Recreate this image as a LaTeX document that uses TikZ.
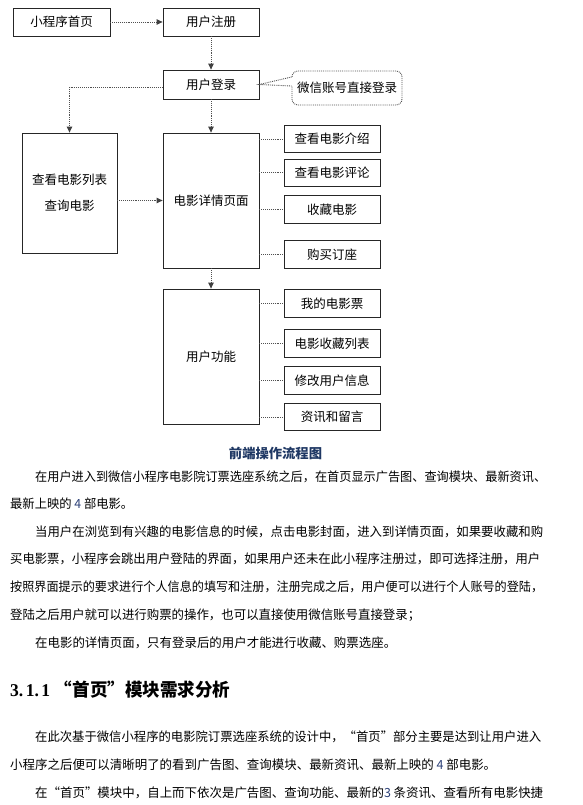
\documentclass[tikz,border=0pt]{standalone}
\usepackage{fontspec}
\setmainfont{Noto Sans CJK SC}
\newfontfamily\hserif{Liberation Serif}
\usepackage{graphicx}
\usetikzlibrary{arrows.meta,calc}
\definecolor{capblue}{RGB}{31,56,100}
\definecolor{dotgray}{RGB}{80,80,80}
\definecolor{numblue}{RGB}{45,65,120}
\newsavebox\fitbox
\newcommand\fitline[2]{\sbox\fitbox{#2}\pgfmathsetmacro\fitsx{#1/\wd\fitbox}\scalebox{\fitsx}[1]{\usebox\fitbox}}
\begin{document}
\begin{tikzpicture}[x=1pt,y=-1pt,
  box/.style={draw=black!85, line width=0.8pt, inner sep=0pt, font=\fontsize{12.5}{15}\selectfont},
  conn/.style={draw=dotgray, line width=0.9pt, dash pattern=on 0.9pt off 1pt},
  arr/.style={conn, -{Triangle[length=6pt,width=5.5pt,color=black!75]}},
  txt/.style={anchor=west, inner sep=0pt, font=\fontsize{12.6}{14}\selectfont},
]
\fill[white] (0,0) rectangle (583,805);
\useasboundingbox (0,0) rectangle (583,805);

% boxes
\node[box, minimum width=97pt, minimum height=28pt] (home) at (61.5,22) {小程序首页};
\node[box, minimum width=96pt, minimum height=28pt] (reg) at (211,22) {用户注册};
\node[box, minimum width=96pt, minimum height=29pt] (login) at (211,84.5) {用户登录};
\node[draw=dotgray, line width=0.9pt, dash pattern=on 0.9pt off 1pt, rounded corners=6pt,
      minimum width=110pt, minimum height=34pt, inner sep=0pt,
      font=\fontsize{12.5}{15}\selectfont] (wx) at (347,88) {微信账号直接登录};
\node[box, minimum width=95pt, minimum height=120pt, align=center] (list) at (69.5,193) {查看电影列表\\[11pt]查询电影};
\node[box, minimum width=96pt, minimum height=135pt] (detail) at (211,200.5) {电影详情页面};
\node[box, minimum width=96pt, minimum height=26.7pt] (intro) at (332,139) {查看电影介绍};
\node[box, minimum width=96pt, minimum height=26.7pt] (comment) at (332,172.7) {查看电影评论};
\node[box, minimum width=96pt, minimum height=28pt] (fav) at (332,209.3) {收藏电影};
\node[box, minimum width=96pt, minimum height=27.3pt] (buy) at (332,254.3) {购买订座};
\node[box, minimum width=96pt, minimum height=135pt] (func) at (211,356.5) {用户功能};
\node[box, minimum width=96pt, minimum height=28pt] (tickets) at (332,303.3) {我的电影票};
\node[box, minimum width=96pt, minimum height=28pt] (favlist) at (332,343.3) {电影收藏列表};
\node[box, minimum width=96pt, minimum height=27.6pt] (modify) at (332,380.5) {修改用户信息};
\node[box, minimum width=96pt, minimum height=27.4pt] (news) at (332,417) {资讯和留言};

% connectors
\draw[arr] (home.east) -- (reg.west);
\draw[arr] (reg.south) -- (login.north);
\draw[arr] ($(login.west)+(0,2.5)$) -| (list.north);
\draw[arr] (login.south) -- (detail.north);
\draw[arr] (list.east |- detail.west) -- (detail.west);
\foreach \n in {intro,comment,fav,buy}{\draw[conn] (detail.east |- \n.west) -- (\n.west);}
\draw[arr] (detail.south) -- (func.north);
\foreach \n in {tickets,favlist,modify,news}{\draw[conn] (func.east |- \n.west) -- (\n.west);}

% callout tail
\fill[white] ($(wx.west)+(-1.5,-11)$) rectangle ($(wx.west)+(1.5,-2)$);
\draw[conn] ($(wx.west)+(0,-11)$) -- (login.east) -- ($(wx.west)+(0,-2)$);

% caption
\node[font=\bfseries\fontsize{13.3}{15}\selectfont, text=capblue, inner sep=0pt] (cap) at (275.5,453) {前端操作流程图};

% body text
\node[txt] (l1) at (35,477) {\fitline{511}{在用户进入到微信小程序电影院订票选座系统之后，在首页显示广告图、查询模块、最新资讯、}};
\node[txt] (l2) at (10,504) {\fitline{123}{最新上映的 {\color{numblue}4} 部电影。}};
\node[txt] (l3) at (35,532) {\fitline{508}{当用户在浏览到有兴趣的电影信息的时候，点击电影封面，进入到详情页面，如果要收藏和购}};
\node[txt] (l4) at (10,559) {\fitline{530}{买电影票，小程序会跳出用户登陆的界面，如果用户还未在此小程序注册过，即可选择注册，用户}};
\node[txt] (l5) at (10,587) {\fitline{533}{按照界面提示的要求进行个人信息的填写和注册，注册完成之后，用户便可以进行个人账号的登陆，}};
\node[txt] (l6) at (10,615) {\fitline{410}{登陆之后用户就可以进行购票的操作，也可以直接使用微信账号直接登录；}};
\node[txt] (l7) at (35,643) {\fitline{361}{在电影的详情页面，只有登录后的用户才能进行收藏、购票选座。}};

\node[anchor=west, inner sep=0pt, font=\bfseries\fontsize{18}{21}\selectfont] (h311) at (10,690)
  {\fitline{220}{{\hserif\fontsize{18}{20}\selectfont\bfseries 3.\hspace{2.5pt}1.\hspace{2.5pt}1}\hspace{5pt}“首页”模块需求分析}};

\node[txt] (l8) at (35,737) {\fitline{506}{在此次基于微信小程序的电影院订票选座系统的设计中，“首页”部分主要是达到让用户进入}};
\node[txt] (l9) at (10,765) {\fitline{486}{小程序之后便可以清晰明了的看到广告图、查询模块、最新资讯、最新上映的 {\color{numblue}4} 部电影。}};
\node[txt] (l10) at (35,793) {\fitline{508}{在“首页”模块中，自上而下依次是广告图、查询功能、最新的{\color{numblue}3} 条资讯、查看所有电影快捷}};
\end{tikzpicture}
\end{document}
